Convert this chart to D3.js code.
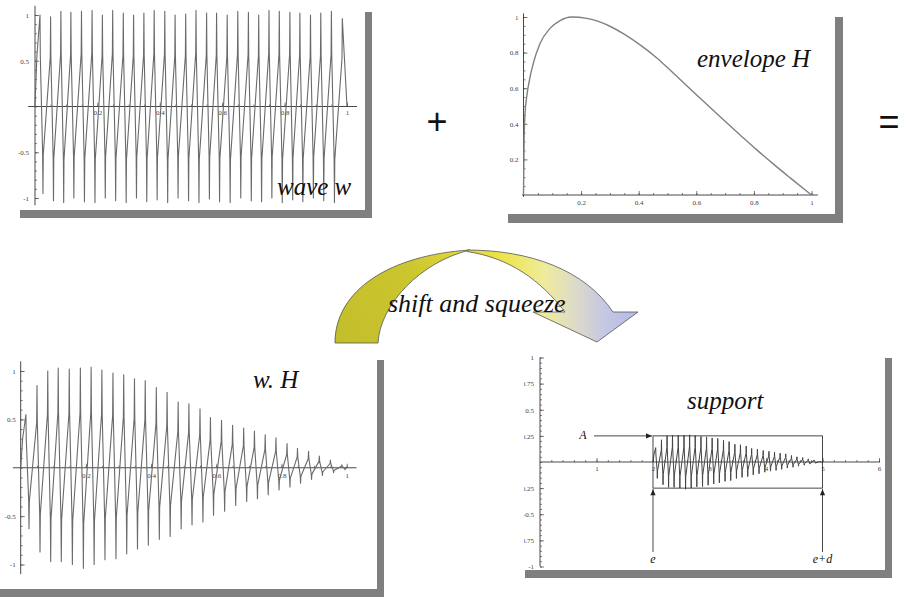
<!DOCTYPE html>
<html><head><meta charset="utf-8">
<script src="https://cdn.jsdelivr.net/npm/d3@7"></script>
<style>
html,body{margin:0;padding:0;background:#fff;}
svg{display:block;}
</style>
</head><body>
<svg id="c" width="902" height="606"></svg>
<script>
// ---------------- data ----------------
// x positions of the 30 wave crests (same carrier for w and w.H)
const peakX = [0.016,0.050,0.083,0.115,0.149,0.183,0.216,0.249,0.283,0.316,0.349,0.382,0.416,0.449,0.483,
               0.516,0.550,0.582,0.616,0.650,0.684,0.717,0.750,0.783,0.817,0.849,0.883,0.916,0.950,0.985];
// wave w : crest and trough values
const wavePeaks   = [1.00,0.98,1.04,1.03,1.04,1.05,1.00,1.05,1.02,1.00,1.02,1.05,1.04,1.00,1.01,
                     1.05,1.02,1.02,1.00,1.04,1.03,1.00,1.05,1.04,1.03,1.02,1.00,1.02,1.04,0.96];
const waveTroughs = [-0.95,-1.03,-1.05,-1.00,-1.04,-1.05,-1.00,-1.03,-1.05,-1.00,-1.04,-1.02,-1.05,-1.00,-1.03,
                     -1.05,-1.01,-1.04,-1.05,-1.00,-1.03,-1.04,-1.00,-1.05,-1.02,-1.04,-1.00,-1.03,-1.05];
// w.H : crest and trough values
const whPeaks   = [0.55,0.85,1.00,1.03,1.02,1.03,1.04,1.01,0.98,0.96,0.92,0.90,0.83,0.78,0.68,
                   0.66,0.61,0.52,0.49,0.44,0.41,0.38,0.34,0.31,0.25,0.20,0.17,0.12,0.08,0.03];
const whTroughs = [-0.63,-0.87,-0.97,-0.97,-1.00,-1.04,-1.00,-0.95,-0.94,-0.89,-0.84,-0.80,-0.74,-0.71,-0.63,
                   -0.59,-0.56,-0.49,-0.45,-0.39,-0.35,-0.32,-0.28,-0.23,-0.20,-0.16,-0.12,-0.08,-0.05,-0.02];
// shape of one cycle: phase (fraction of a period after a crest) and kink level (fraction of crest / trough)
const cyclePhase = [0.03, 0.25, 0.28, 0.31, 0.97];
const kinkLevel  = 0.55;
// envelope H
const envX = [0,0.002,0.005,0.011,0.023,0.034,0.057,0.092,0.127,0.167,0.22,0.26,0.30,0.348,0.406,0.463,0.52,0.579,0.637,0.695,0.753,0.811,0.869,0.927,1.0];
const envY = [0,0.30,0.45,0.55,0.665,0.74,0.85,0.936,0.98,1.0,0.992,0.975,0.948,0.905,0.842,0.77,0.685,0.596,0.508,0.421,0.336,0.252,0.172,0.095,0];
// support parameters
const suppE = 2, suppD = 3, suppA = 0.25;
// tick labels
const unitTicks  = [0.2,0.4,0.6,0.8,1],  unitLabels = ["0.2","0.4","0.6","0.8","1"];
const waveYTicks = [-1,-0.5,0.5,1],      waveYLabels = ["-1","-0.5","0.5","1"];
const envYTicks  = [0.2,0.4,0.6,0.8,1],  envYLabels = ["0.2","0.4","0.6","0.8","1"];
const suppXTicks = [1,2,3,4,5,6],        suppXLabels = ["1","2","3","4","5","6"];
const suppYTicks = [-1,-0.75,-0.5,-0.25,0.25,0.5,0.75,1];
const suppYLabels = ["-1","-0.75","-0.5","-0.25","0.25","0.5","0.75","1"];

// ---------------- helpers ----------------
function wavePoints(peaks, troughs) {
  const pts = [[0,0]];
  const n = peaks.length;
  for (let k = 0; k < n; k++) {
    const T = k < n-1 ? peakX[k+1]-peakX[k] : peakX[k]-peakX[k-1];
    const p = peakX[k];
    if (k === 0) pts.push([p - 0.01, kinkLevel*peaks[0]]);
    pts.push([p, peaks[k]]);
    if (k < troughs.length) {
      pts.push([p + cyclePhase[0]*T, kinkLevel*peaks[k]]);
      pts.push([p + cyclePhase[1]*T, kinkLevel*troughs[k]]);
      pts.push([p + cyclePhase[2]*T, troughs[k]]);
      pts.push([p + cyclePhase[3]*T, kinkLevel*troughs[k]]);
      if (k < n-1) pts.push([p + cyclePhase[4]*T, kinkLevel*peaks[k+1]]);
    }
  }
  pts.push([1,0]);
  return pts;
}

const svg = d3.select("#c");
const defs = svg.append("defs");
const SH = "#7f7f7f";
const tickFont = "Liberation Serif, Times New Roman, serif";

function shadow(xr, yt, yb, xl, w) {
  svg.append("rect").attr("x", xr).attr("y", yt).attr("width", w).attr("height", yb-yt).attr("fill", SH);
  svg.append("rect").attr("x", xl).attr("y", yb-w-1).attr("width", xr+w-xl).attr("height", w+1).attr("fill", SH);
}

function axes(g, x, y, o) {
  g.append("line").attr("x1", x(o.xExt[0])).attr("x2", x(o.xExt[1]))
    .attr("y1", y(0)).attr("y2", y(0)).attr("stroke", "#333").attr("stroke-width", 0.9);
  g.append("line").attr("x1", x(0)).attr("x2", x(0))
    .attr("y1", y(o.yExt[0])).attr("y2", y(o.yExt[1])).attr("stroke", "#333").attr("stroke-width", 0.9);
  const style = sel => {
    sel.select(".domain").remove();
    sel.selectAll("line").attr("stroke", "#444").attr("stroke-width", 0.7);
    sel.attr("font-family", tickFont).attr("font-size", 7);
    sel.selectAll("text").attr("fill", "#444");
  };
  g.append("g").attr("transform", `translate(0,${y(0)})`)
    .call(d3.axisBottom(x).tickValues(o.xMinor).tickSize(-2).tickFormat("")).call(style);
  g.append("g").attr("transform", `translate(0,${y(0)})`)
    .call(d3.axisBottom(x).tickValues(o.xMajor).tickSize(-4).tickPadding(o.xPad)
      .tickFormat((d,i) => o.xLabels[i])).call(style);
  g.append("g").attr("transform", `translate(${x(0)},0)`)
    .call(d3.axisLeft(y).tickValues(o.yMinor).tickSize(-2).tickFormat("")).call(style);
  const wrap = g.append("g");
  if (o.clip) wrap.attr("clip-path", o.clip);
  wrap.append("g").attr("transform", `translate(${x(0)},0)`)
    .call(d3.axisLeft(y).tickValues(o.yMajor).tickSize(-4).tickPadding(o.yPad)
      .tickFormat((d,i) => o.yLabels[i])).call(style);
}

const rangeStep = (a, b, s) => d3.range(Math.round(a/s), Math.round(b/s)+1).map(i => +(i*s).toFixed(4));

function title(txt, x, y, size) {
  svg.append("text").attr("x", x).attr("y", y).text(txt)
    .attr("font-family", "Liberation Serif, Times New Roman, serif").attr("font-style", "italic")
    .attr("font-size", size).attr("fill", "#111");
}

// ---------------- shadows ----------------
shadow(365, 12, 218, 20, 7);
shadow(835, 17, 223, 508, 8);
shadow(377, 360, 597, 0, 7);
shadow(885, 358, 578, 525, 7);

// ---------------- panel A : wave w ----------------
{
  const x = d3.scaleLinear().domain([0,1]).range([35,347]);
  const y = d3.scaleLinear().domain([-1,1]).range([198,15]);
  const g = svg.append("g");
  axes(g, x, y, {xExt:[-0.022,1.032], yExt:[-1.08,1.1], xMajor:unitTicks, xLabels:unitLabels,
    xMinor:rangeStep(0.05,1.0,0.05), yMajor:waveYTicks, yLabels:waveYLabels, yMinor:rangeStep(-1.0,1.0,0.1),
    xPad:4, yPad:6});
  g.append("path").datum(wavePoints(wavePeaks, waveTroughs))
    .attr("d", d3.line().x(d => x(d[0])).y(d => y(d[1])))
    .attr("fill", "none").attr("stroke", "#6a6a6a").attr("stroke-width", 1.1).attr("stroke-linejoin", "round");
  title("wave w", 277, 195, 25);
}

// ---------------- panel B : envelope H ----------------
{
  const x = d3.scaleLinear().domain([0,1]).range([523.5,811.5]);
  const y = d3.scaleLinear().domain([0,1]).range([195,17]);
  const g = svg.append("g");
  axes(g, x, y, {xExt:[-0.005,1.022], yExt:[-0.01,1.02], xMajor:unitTicks, xLabels:unitLabels,
    xMinor:rangeStep(0.05,1.0,0.05), yMajor:envYTicks, yLabels:envYLabels, yMinor:rangeStep(0.05,1.0,0.05),
    xPad:5, yPad:5});
  g.append("path").datum(envX.map((v,i) => [v, envY[i]]))
    .attr("d", d3.line().x(d => x(d[0])).y(d => y(d[1])).curve(d3.curveMonotoneX))
    .attr("fill", "none").attr("stroke", "#808080").attr("stroke-width", 1.4);
  title("envelope H", 697, 67, 25);
}

// ---------------- panel C : w.H ----------------
{
  const x = d3.scaleLinear().domain([0,1]).range([20.7,346.7]);
  const y = d3.scaleLinear().domain([-1,1]).range([564.5,371]);
  const g = svg.append("g");
  axes(g, x, y, {xExt:[-0.024,1.03], yExt:[-1.1,1.1], xMajor:unitTicks, xLabels:unitLabels,
    xMinor:rangeStep(0.05,1.0,0.05), yMajor:waveYTicks, yLabels:waveYLabels, yMinor:rangeStep(-1.0,1.0,0.1),
    xPad:5, yPad:5});
  g.append("path").datum(wavePoints(whPeaks, whTroughs))
    .attr("d", d3.line().x(d => x(d[0])).y(d => y(d[1])))
    .attr("fill", "none").attr("stroke", "#6a6a6a").attr("stroke-width", 1.1).attr("stroke-linejoin", "round");
  title("w. H", 253, 388, 25);
}

// ---------------- panel D : support ----------------
{
  defs.append("clipPath").attr("id", "dclip").append("rect")
    .attr("x", 524).attr("y", 340).attr("width", 40).attr("height", 240);
  const x = d3.scaleLinear().domain([0,6]).range([540,879]);
  const y = d3.scaleLinear().domain([-1,1]).range([566.5,357.5]);
  const g = svg.append("g");
  axes(g, x, y, {xExt:[0,6.02], yExt:[-1,1], xMajor:suppXTicks, xLabels:suppXLabels,
    xMinor:rangeStep(0.2,6.0,0.2), yMajor:suppYTicks, yLabels:suppYLabels, yMinor:rangeStep(-1,1,0.05),
    xPad:4, yPad:6, clip:"url(#dclip)"});
  const xw = d3.scaleLinear().domain([0,1]).range([x(suppE), x(suppE+suppD)]);
  const yw = d3.scaleLinear().domain([-1,1]).range([y(-suppA), y(suppA)]);
  g.append("path").datum(wavePoints(whPeaks, whTroughs))
    .attr("d", d3.line().x(d => xw(d[0])).y(d => yw(d[1])))
    .attr("fill", "none").attr("stroke", "#444").attr("stroke-width", 1);
  g.append("rect").attr("x", x(suppE)).attr("y", y(suppA))
    .attr("width", x(suppE+suppD)-x(suppE)).attr("height", y(-suppA)-y(suppA))
    .attr("fill", "none").attr("stroke", "#333").attr("stroke-width", 0.9);
  // annotation arrows
  const arr = (x1,y1,x2,y2) => {
    g.append("line").attr("x1",x1).attr("y1",y1).attr("x2",x2).attr("y2",y2).attr("stroke","#333").attr("stroke-width",0.9);
    const a = Math.atan2(y2-y1, x2-x1), L = 6, W = 2.6;
    const p = [[x2,y2],[x2-L*Math.cos(a)+W*Math.sin(a), y2-L*Math.sin(a)-W*Math.cos(a)],
               [x2-L*Math.cos(a)-W*Math.sin(a), y2-L*Math.sin(a)+W*Math.cos(a)]];
    g.append("path").attr("d", "M"+p.join("L")+"Z").attr("fill","#222");
  };
  arr(594, y(suppA), x(suppE)-1, y(suppA));
  arr(x(suppE), 552, x(suppE), y(-suppA)+1);
  arr(x(suppE+suppD), 552, x(suppE+suppD), y(-suppA)+1);
  const lab = (t, xx, yy, anchor) => g.append("text").text(t).attr("x", xx).attr("y", yy)
    .attr("font-family","Liberation Serif, serif").attr("font-style","italic").attr("font-size",12)
    .attr("text-anchor", anchor).attr("fill","#111");
  lab("A", 583, 439, "middle");
  lab("e", x(suppE), 563, "middle");
  lab("e+d", x(suppE+suppD), 563, "middle");
  title("support", 687, 409, 25);
}

// ---------------- operators ----------------
svg.append("text").text("+").attr("x", 437).attr("y", 134).attr("text-anchor","middle")
  .attr("font-family","Liberation Sans, Arial, sans-serif").attr("font-size",36).attr("fill","#111");
svg.append("text").text("=").attr("x", 889).attr("y", 134).attr("text-anchor","middle")
  .attr("font-family","Liberation Sans, Arial, sans-serif").attr("font-size",36).attr("fill","#111");

// ---------------- curved arrow ----------------
{
  const gl = defs.append("linearGradient").attr("id","gl").attr("gradientUnits","userSpaceOnUse")
    .attr("x1",340).attr("y1",340).attr("x2",470).attr("y2",250);
  gl.append("stop").attr("offset",0).attr("stop-color","#c3bf2b");
  gl.append("stop").attr("offset",0.6).attr("stop-color","#cbc52e");
  gl.append("stop").attr("offset",1).attr("stop-color","#e2db3c");
  const gr = defs.append("linearGradient").attr("id","gr").attr("gradientUnits","userSpaceOnUse")
    .attr("x1",467).attr("y1",0).attr("x2",638).attr("y2",0);
  gr.append("stop").attr("offset",0).attr("stop-color","#dcd43a");
  gr.append("stop").attr("offset",0.22).attr("stop-color","#ece64e");
  gr.append("stop").attr("offset",0.45).attr("stop-color","#efeb9c");
  gr.append("stop").attr("offset",0.62).attr("stop-color","#dedcc6");
  gr.append("stop").attr("offset",0.8).attr("stop-color","#c6c7e2");
  gr.append("stop").attr("offset",1).attr("stop-color","#b5b9e8");
  svg.append("path")
    .attr("d","M335,343 C335,290 390,255 470,250 C420,262 380,305 378,343 Z")
    .attr("fill","url(#gl)").attr("stroke","#555").attr("stroke-width",0.8);
  svg.append("path")
    .attr("d","M467,250 C530,250 585,270 613,312 L638,312 L597,342 L533,312 L565,312 C540,280 510,258 467,251.5 Z")
    .attr("fill","url(#gr)").attr("stroke","#555").attr("stroke-width",0.8);
  title("shift and squeeze", 388, 312, 26);
}
</script>
</body></html>
